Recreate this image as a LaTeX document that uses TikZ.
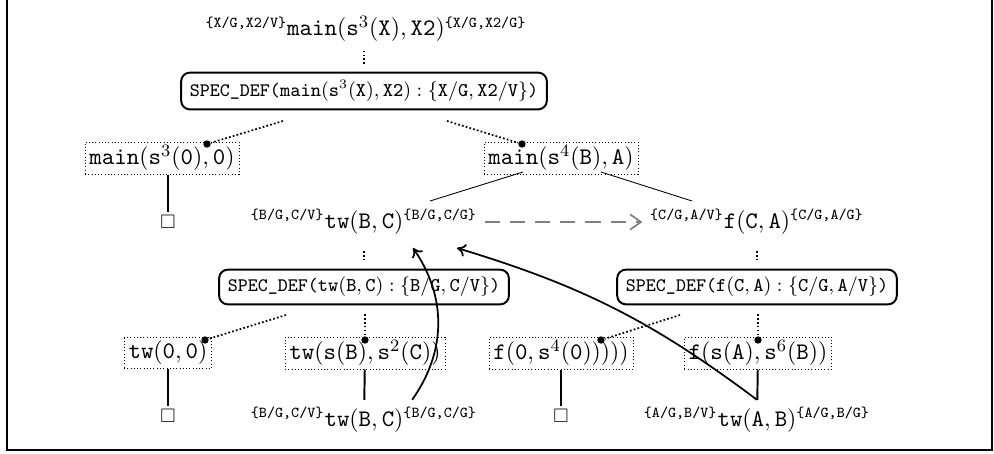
\documentclass[tikz,border=0pt]{standalone}
\usepackage{amsfonts,amssymb,amsmath}
\usepackage{tikz}
\usetikzlibrary{arrows.meta,positioning}
\DeclareMathSizes{8.8}{8.8}{6.2}{5}
\newcommand{\ttm}[1]{\mathtt{#1}}
\newcommand{\annot}[1]{\mbox{\scriptsize\ttfamily\{#1\}}}
\newcommand{\specdef}[1]{\texttt{SPEC\_DEF(}#1\texttt{)}}
\begin{document}
\begin{tikzpicture}[x=0.0162cm,y=-0.0162cm,font=\fontsize{10.95}{13}\selectfont,
goal/.style={draw,dash pattern=on 0.4pt off 1.1pt,line width=0.35pt,inner xsep=2pt,inner ysep=1.5pt},
spec/.style={draw,rounded corners=4pt,line width=0.9pt,inner xsep=4pt,inner ysep=3.5pt,font=\fontsize{8.8}{10.5}\selectfont},
seldot/.style={circle,fill,inner sep=0pt,minimum size=3.4pt},
sel/.style={line width=0.8pt,densely dotted},
box/.style={inner sep=1.5pt,font=\small}]
\useasboundingbox(0,0)rectangle(994,453);
\draw[line width=0.9pt](7,0)--(7,450)--(992,450)--(992,0);
%%% top goal
\node(top) at (366,29){${}^{\annot{X/G,X2/V}}\ttm{main}(\ttm{s}^3(\ttm{X}),\ttm{X2})^{\annot{X/G,X2/G}}$};
\node[spec](b1) at (364,91){\specdef{$\ttm{main}(\ttm{s}^3(\ttm{X}),\ttm{X2}):\{\ttm{X/G},\ttm{X2/V}\}$}};
\draw[sel]([yshift=-0.5pt]top.south -| b1)--([yshift=3pt]b1.north);
%%% first unfolding
\node[goal](n1) at (162,158){$\ttm{main}(\ttm{s}^3(\ttm{0}),\ttm{0})$};
\node[goal](n2) at (561,158){$\ttm{main}(\ttm{s}^4(\ttm{B}),\ttm{A})$};
\node[seldot](d1) at (207,144){};
\node[seldot](d2) at (522,144){};
\coordinate(b1l) at (283,121);
\coordinate(b1r) at (447,121);
\draw[sel](b1l)--(d1);
\draw[sel](b1r)--(d2);
\node[box](q1) at (168,222){$\square$};
\draw[line width=0.9pt](n1.south -| q1)--(q1);
%%% conjunction
\node(l2) at (364,222){${}^{\annot{B/G,C/V}}\ttm{tw}(\ttm{B},\ttm{C})^{\annot{B/G,C/G}}$};
\node(r2) at (757,222){${}^{\annot{C/G,A/V}}\ttm{f}(\ttm{C},\ttm{A})^{\annot{C/G,A/G}}$};
\coordinate(n2l) at (523,172);
\coordinate(n2r) at (601,172);
\coordinate(l2t) at (430,201);
\coordinate(r2t) at (692,201);
\coordinate(l2a) at (413,248);
\coordinate(l2b) at (457,248);
\draw[line width=0.4pt](n2l)--(l2t);
\draw[line width=0.4pt](n2r)--(r2t);
\draw[gray,line width=0.8pt,dash pattern=on 7pt off 4.6pt,-{Straight Barb[length=5pt,width=7pt]}](l2.east)--(r2.west);
%%% second level
\node[spec](b2) at (364,287){\specdef{$\ttm{tw}(\ttm{B},\ttm{C}):\{\ttm{B/G},\ttm{C/V}\}$}};
\node[spec](b3) at (757,287){\specdef{$\ttm{f}(\ttm{C},\ttm{A}):\{\ttm{C/G},\ttm{A/V}\}$}};
\draw[sel]([yshift=-4pt]l2.south)--([yshift=4pt]b2.north);
\draw[sel]([yshift=-4pt]r2.south)--([yshift=4pt]b3.north);
\node[goal](n3) at (168,353){$\ttm{tw}(\ttm{0},\ttm{0})$};
\node[goal](n4) at (365,353){$\ttm{tw}(\ttm{s}(\ttm{B}),\ttm{s}^2(\ttm{C}))$};
\node[goal](n5) at (561,353){$\ttm{f}(\ttm{0},\ttm{s}^4(\ttm{0})))))$};
\node[goal](n6) at (758,353){$\ttm{f}(\ttm{s}(\ttm{A}),\ttm{s}^6(\ttm{B}))$};
\node[seldot](d3) at (205,340){};
\node[seldot](d4) at (365,340){};
\node[seldot](d5) at (601,340){};
\node[seldot](d6) at (758,340){};
\coordinate(b2l) at (286,315);
\coordinate(b2m) at (365,314);
\coordinate(b3l) at (680,315);
\coordinate(b3m) at (758,314);
\draw[sel](b2l)--(d3);
\draw[sel](b2m)--(d4);
\draw[sel](b3l)--(d5);
\draw[sel](b3m)--(d6);
%%% leaves
\node[box](q2) at (168,416){$\square$};
\node[box](q3) at (561,416){$\square$};
\node(l4) at (364,420){${}^{\annot{B/G,C/V}}\ttm{tw}(\ttm{B},\ttm{C})^{\annot{B/G,C/G}}$};
\node(r4) at (757,420){${}^{\annot{A/G,B/V}}\ttm{tw}(\ttm{A},\ttm{B})^{\annot{A/G,B/G}}$};
\draw[line width=0.9pt](n3)--(q2);
\draw[line width=0.9pt](n4)--(l4);
\draw[line width=0.9pt](n5)--(q3);
\draw[line width=0.9pt](n6)--(r4);
%%% variant links
\draw[line width=0.8pt,-{To[length=4pt,width=6pt]}]([xshift=0.78cm]l4.north)to[bend right=35](l2a);
\draw[line width=0.8pt,-{To[length=4pt,width=6pt]}](r4.north)to[bend right=10](l2b);
\end{tikzpicture}
\end{document}
